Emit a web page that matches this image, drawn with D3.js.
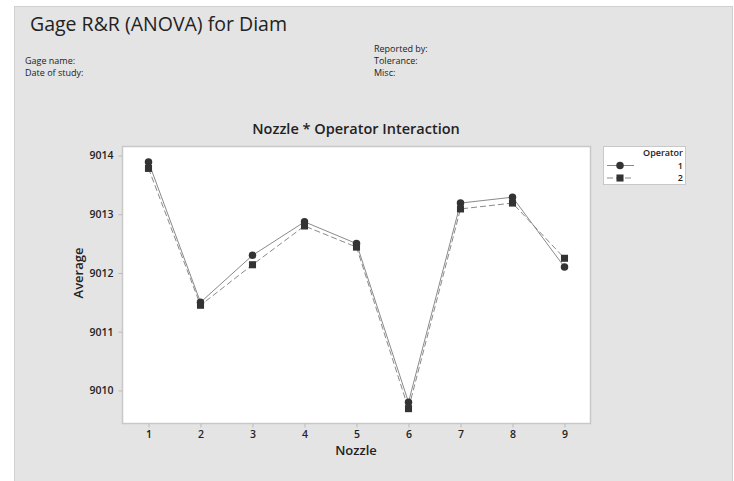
<!DOCTYPE html>
<html><head><meta charset="utf-8">
<script src="https://cdn.jsdelivr.net/npm/d3@7/dist/d3.min.js"></script>
<style>
body{margin:0;background:#fff;}
text{font-family:"Open Sans","Noto Sans",sans-serif;fill:#222;}
</style></head>
<body><svg id="c" width="734" height="481"></svg>
<script>
const nozzles = [1,2,3,4,5,6,7,8,9];
const operators = ["1","2"];
const op1 = [9013.89, 9011.50, 9012.30, 9012.87, 9012.50, 9009.80, 9013.19, 9013.29, 9012.10];
const op2 = [9013.78, 9011.45, 9012.14, 9012.80, 9012.44, 9009.69, 9013.09, 9013.19, 9012.25];
const yTicks = [9010, 9011, 9012, 9013, 9014];

const svg = d3.select("#c");
svg.append("rect").attr("x",14.5).attr("y",6.5).attr("width",718).attr("height",480)
  .attr("fill","#e4e4e4").attr("stroke","#d0d0d0");

svg.append("text").attr("x",30).attr("y",31).attr("font-size",19.5).text("Gage R&R (ANOVA) for Diam");
const hdr = [["Gage name:",25,63.5],["Date of study:",25,75.5],["Reported by:",374,51.5],["Tolerance:",374,63.5],["Misc:",374,75.5]];
hdr.forEach(h=>svg.append("text").attr("x",h[1]).attr("y",h[2]).attr("font-size",9).text(h[0]));

const L=122.5,R=590.5,T=146.5,B=423.5;
const x = d3.scaleLinear().domain([0.5,9.5]).range([L,R]);
const y = d3.scaleLinear().domain([9009.437,9014.153]).range([B,T]);

svg.append("rect").attr("x",L).attr("y",T).attr("width",R-L).attr("height",B-T)
  .attr("fill","#fff").attr("stroke","#c8c8c8").attr("stroke-width",1.5);

svg.append("text").attr("x",356).attr("y",134).attr("text-anchor","middle")
  .attr("font-size",14.5).attr("font-weight",600).text("Nozzle * Operator Interaction");

const xa = svg.append("g").attr("transform",`translate(0,${B})`)
  .call(d3.axisBottom(x).tickValues(nozzles).tickFormat(d3.format("d")).tickSize(4).tickPadding(3));
const ya = svg.append("g").attr("transform",`translate(${L},0)`)
  .call(d3.axisLeft(y).tickValues(yTicks).tickFormat(d3.format("d")).tickSize(4).tickPadding(5));
[xa,ya].forEach(a=>{
  a.select(".domain").remove();
  a.selectAll(".tick line").attr("stroke","#bbb");
  a.selectAll(".tick text").attr("font-size",10.5).attr("font-weight",600).attr("fill","#222")
   .attr("font-family","'Open Sans',sans-serif");
});

svg.append("text").attr("x",356).attr("y",455).attr("text-anchor","middle")
  .attr("font-size",13).attr("font-weight",600).text("Nozzle");
svg.append("text").attr("transform","translate(83,273) rotate(-90)").attr("text-anchor","middle")
  .attr("font-size",13).attr("font-weight",600).text("Average");

const series = [{v:op1,dash:null,sym:d3.symbolCircle,size:44},{v:op2,dash:"6,3",sym:d3.symbolSquare,size:50}];
const line = d3.line().x((d,i)=>x(nozzles[i])).y(d=>y(d));
series.forEach(s=>{
  svg.append("path").attr("d",line(s.v)).attr("fill","none").attr("stroke","#8a8a8a")
    .attr("stroke-width",1).attr("stroke-dasharray",s.dash);
});
series.forEach(s=>{
  svg.selectAll(null).data(s.v).enter().append("path")
    .attr("d",d3.symbol().type(s.sym).size(s.size))
    .attr("transform",(d,i)=>`translate(${x(nozzles[i])},${y(d)})`)
    .attr("fill","#333");
});

// legend
const lg = svg.append("g");
lg.append("rect").attr("x",603.5).attr("y",146.5).attr("width",82).attr("height",38)
  .attr("fill","#fff").attr("stroke","#c8c8c8");
lg.append("text").attr("x",683).attr("y",156).attr("text-anchor","end").attr("font-size",9).attr("font-weight",600).text("Operator");
operators.forEach((o,i)=>{
  const yy = 165.5+i*12.5;
  lg.append("line").attr("x1",607).attr("x2",634).attr("y1",yy).attr("y2",yy)
    .attr("stroke","#8a8a8a").attr("stroke-dasharray",series[i].dash);
  lg.append("path").attr("d",d3.symbol().type(series[i].sym).size(series[i].size)())
    .attr("transform",`translate(620,${yy})`).attr("fill","#333");
  lg.append("text").attr("x",683).attr("y",yy+3).attr("text-anchor","end").attr("font-size",9).attr("font-weight",600).text(o);
});
</script></body></html>
